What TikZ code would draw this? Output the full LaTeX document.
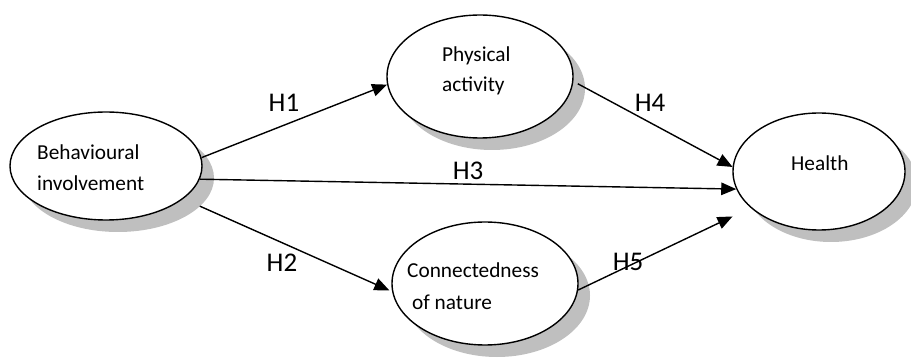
\documentclass[tikz,border=0pt]{standalone}
\usepackage{fontspec}
\setmainfont{Carlito}
\usetikzlibrary{shapes.geometric,shadows,arrows.meta}
\begin{document}
\begin{tikzpicture}[x=1pt,y=-1pt,
  construct/.style={ellipse, draw=black, line width=1.4pt, fill=white, inner sep=0pt,
    drop shadow={shadow xshift=12pt, shadow yshift=-12pt, fill=black!25, opacity=1}},
  etext/.style={font=\fontsize{21.3}{31}\selectfont, inner sep=0pt, anchor=base west},
  hlabel/.style={font=\fontsize{27}{32}\selectfont, inner sep=0pt},
  arr/.style={line width=1.4pt, -{Triangle[length=15pt,width=12.5pt]}}
]
\useasboundingbox (0,0) rectangle (911,358);
\node[construct, minimum width=192pt, minimum height=108pt] (beh) at (106,166) {};
\node[construct, minimum width=186pt, minimum height=123pt] (pa) at (480,76.5) {};
\node[construct, minimum width=186pt, minimum height=123pt] (conn) at (485,283.5) {};
\node[construct, minimum width=172pt, minimum height=117pt] (health) at (819,171.5) {};

\node[etext] (behA) at (37,160) {Behavioural};
\node[etext] (behB) at (37,191) {involvement};
\node[etext] (paA) at (442,62) {Physical};
\node[etext] (paB) at (442,92) {activity};
\node[etext] (connA) at (407,278) {Connectedness};
\node[etext] (connB) at (412,310) {of nature};
\node[etext] (healthA) at (791,171) {Health};

\draw[arr] (beh.5) -- (pa.185);
\draw[arr] (beh.-8) -- (health.192);
\draw[arr, shorten <=18pt, shorten >=3pt] (beh.-23) -- (conn.185);
\draw[arr, shorten <=5pt] (pa.-3) -- (health.177);
\draw[arr, shorten >=20pt] (conn.-4) -- (health.208);

\node[hlabel] (h1) at (284,103) {H1};
\node[hlabel] (h2) at (282,263) {H2};
\node[hlabel] (h3) at (468,171) {H3};
\node[hlabel] (h4) at (650,103) {H4};
\node[hlabel] (h5) at (628,262) {H5};
\end{tikzpicture}
\end{document}
